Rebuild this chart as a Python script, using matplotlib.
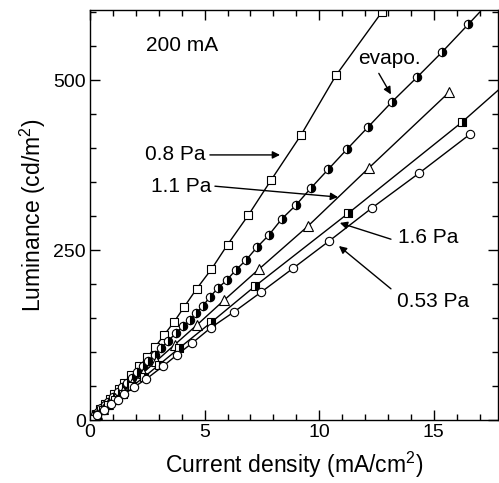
import numpy as np
import matplotlib
matplotlib.use("Agg")
import matplotlib.pyplot as plt
from matplotlib.ticker import MultipleLocator

plt.rcParams["font.family"] = ["Liberation Sans", "DejaVu Sans"]
plt.rcParams["mathtext.fontset"] = "custom"
plt.rcParams["mathtext.rm"] = "Liberation Sans"
plt.rcParams["mathtext.default"] = "regular"

# 0.8 Pa (open squares)
x_08 = [0.05, 0.25, 0.45, 0.65, 0.85, 1.05, 1.25, 1.5, 1.8, 2.14, 2.5, 2.83,
        3.23, 3.66, 4.1, 4.65, 5.3, 6.0, 6.9, 7.9, 9.2, 10.73, 12.73]
y_08 = [2, 9, 16, 24, 31, 38, 46, 55, 66, 79, 92, 107,
        125, 144, 166, 193, 222, 258, 301, 353, 419, 507, 600]

# evaporated (half filled circles)
x_ev = [0.05, 0.2, 0.35, 0.5, 0.65, 0.8, 1.0, 1.2, 1.4, 1.6, 1.82, 2.05, 2.3,
        2.55, 2.82, 3.1, 3.4, 3.75, 4.06, 4.36, 4.62, 4.93, 5.23, 5.58, 5.97,
        6.37, 6.8, 7.28, 7.8, 8.37, 8.98, 9.63, 10.4, 11.2, 12.13, 13.17,
        14.26, 15.35, 16.5]
y_ev = [2, 7, 12, 17, 22, 27, 34, 41, 48, 55, 62, 70, 79,
        87, 96, 106, 116, 128, 138, 147, 157, 168, 181, 194, 206,
        221, 235, 254, 272, 296, 316, 341, 369, 398, 431, 468,
        504, 541, 582]
ev_line_end = (17.0, 600)

# 1.1 Pa (open triangles)
x_11 = [0.05, 0.3, 0.55, 0.8, 1.1, 1.45, 1.85, 2.3, 2.9, 3.7, 4.67, 5.84,
        7.37, 9.5, 12.17, 15.66]
y_11 = [2, 9, 16, 24, 33, 43, 55, 69, 87, 111, 140, 176,
        222, 285, 371, 482]

# 1.6 Pa (half filled squares)
x_16 = [0.05, 0.3, 0.55, 0.8, 1.1, 1.45, 1.85, 2.35, 3.0, 3.9, 5.3, 7.2,
        11.26, 16.22]
y_16 = [1, 8, 15, 22, 30, 39, 50, 63, 81, 106, 144, 197,
        304, 438]
p16_line_end = (17.8, 485)

# 0.53 Pa (open circles)
x_053 = [0.05, 0.3, 0.6, 0.9, 1.2, 1.5, 1.9, 2.44, 3.18, 3.8, 4.45, 5.28,
         6.28, 7.46, 8.85, 10.42, 12.3, 14.35, 16.6]
y_053 = [1, 8, 15, 23, 30, 38, 48, 60, 79, 96, 113, 136,
         159, 188, 223, 263, 312, 363, 421]

fig = plt.figure(figsize=(4.99, 4.83), dpi=100)
ax = fig.add_axes([0.1804, 0.1304, 0.8176, 0.8486])

lw = 1.0
ms = 6.0
mew = 0.8

ax.plot(x_08, y_08, color="black", lw=lw, marker="s", ms=ms, mfc="white",
        mec="black", mew=mew)
ax.plot(x_ev + [ev_line_end[0]], y_ev + [ev_line_end[1]], color="black", lw=lw)
ax.plot(x_ev, y_ev, ls="none", marker="o", ms=ms, mfc="black", mfcalt="white",
        fillstyle="right", mec="black", mew=mew)
ax.plot(x_11, y_11, color="black", lw=lw, marker="^", ms=ms + 0.5, mfc="white",
        mec="black", mew=mew)
ax.plot(x_16 + [p16_line_end[0]], y_16 + [p16_line_end[1]], color="black", lw=lw)
ax.plot(x_16, y_16, ls="none", marker="s", ms=ms, mfc="black", mfcalt="white",
        fillstyle="right", mec="black", mew=mew)
ax.plot(x_053, y_053, color="black", lw=lw, marker="o", ms=ms, mfc="white",
        mec="black", mew=mew)

ax.set_xlim(0, 17.8)
ax.set_ylim(0, 603)
ax.xaxis.set_major_locator(MultipleLocator(5))
ax.xaxis.set_minor_locator(MultipleLocator(1))
ax.yaxis.set_major_locator(MultipleLocator(250))
ax.yaxis.set_minor_locator(MultipleLocator(50))
ax.tick_params(which="both", direction="in", top=True, right=True,
               labelsize=14, width=1.0, pad=3)
ax.tick_params(which="major", length=7)
ax.tick_params(which="minor", length=4)
for sp in ax.spines.values():
    sp.set_linewidth(1.0)

ax.set_xlabel(r"Current density (mA/cm$^{2}$)", fontsize=16.5, labelpad=6)
ax.set_ylabel(r"Luminance (cd/m$^{2}$)", fontsize=16.5, labelpad=4)

arr = dict(arrowstyle="-|>", color="black", lw=1.0, mutation_scale=11,
           shrinkA=0, shrinkB=0)
fs = 15
ax.text(2.44, 551, "200 mA", fontsize=fs, ha="left", va="center")
ax.text(5.02, 390, "0.8 Pa", fontsize=fs, ha="right", va="center")
ax.annotate("", xy=(8.29, 390), xytext=(5.23, 390), arrowprops=arr)
ax.text(5.28, 344, "1.1 Pa", fontsize=fs, ha="right", va="center")
ax.annotate("", xy=(10.82, 328), xytext=(5.45, 344), arrowprops=arr)
ax.text(13.08, 532, "evapo.", fontsize=fs, ha="center", va="center")
ax.annotate("", xy=(13.13, 479), xytext=(12.6, 510), arrowprops=arr)
ax.text(13.43, 268, "1.6 Pa", fontsize=fs, ha="left", va="center")
ax.annotate("", xy=(10.9, 290), xytext=(13.13, 266), arrowprops=arr)
ax.text(13.39, 174, "0.53 Pa", fontsize=fs, ha="left", va="center")
ax.annotate("", xy=(10.86, 256), xytext=(13.13, 193), arrowprops=arr)

fig.savefig("out.png", dpi=100)
